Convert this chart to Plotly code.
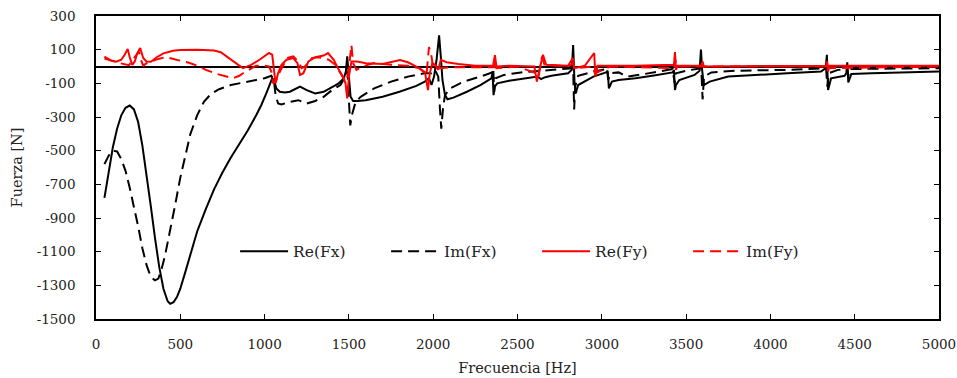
import plotly.graph_objects as go

# ---------------- data ----------------
re_fx_f = [50, 75, 100, 125, 150, 175, 200, 225, 250, 275, 300, 325, 350, 375, 400, 425, 440, 460, 480, 500,
           530, 560, 600, 650, 700, 750, 800, 850, 900, 950, 980, 1010, 1030, 1045, 1055, 1070, 1090, 1120, 1150,
           1180, 1210, 1250, 1300, 1350, 1400, 1440, 1470, 1482, 1490, 1498, 1510, 1525, 1550, 1600, 1700, 1800,
           1900, 1950, 1975, 1990, 2005, 2020, 2035, 2045, 2055, 2070, 2085, 2120, 2200, 2280, 2345, 2352, 2358,
           2365, 2380, 2450, 2550, 2620, 2640, 2660, 2700, 2800, 2822, 2830, 2838, 2845, 2860, 2950, 3025, 3035,
           3042, 3060, 3100, 3200, 3300, 3420, 3428, 3434, 3440, 3460, 3550, 3580, 3588, 3595, 3605, 3640, 3750,
           3900, 4100, 4300, 4328, 4335, 4342, 4360, 4440, 4450, 4456, 4462, 4480, 4600, 4800, 5000]
re_fx = [-780, -620, -480, -370, -290, -245, -232, -255, -330, -470, -640, -830, -1020, -1190, -1320, -1395,
         -1410, -1400, -1370, -1320, -1220, -1110, -980, -850, -730, -630, -540, -460, -380, -290, -230, -160,
         -110, -70, -80, -130, -150, -155, -150, -135, -120, -140, -160, -150, -120, -100, -70, -30, 60, -60,
         -180, -205, -205, -200, -180, -150, -115, -90, -70, -110, -60, 40, 185, 60, -80, -170, -195, -185, -150,
         -110, -70, -40, -170, -120, -100, -85, -70, -60, -75, -65, -55, -40, -20, 128, -90, -160, -110, -60,
         -35, -25, -130, -90, -80, -70, -55, -35, -20, -140, -110, -80, -50, -25, 100, -20, -110, -90, -60, -50,
         -40, -30, -10, 70, -140, -70, -55, -40, 25, -95, -45, -40, -35, -30]

im_fx_f = [50, 75, 100, 125, 150, 175, 200, 225, 250, 275, 300, 325, 350, 370, 390, 410, 440, 470, 500, 530,
           560, 600, 640, 680, 730, 800, 900, 1000, 1040, 1055, 1065, 1080, 1100, 1150, 1200, 1250, 1300, 1350,
           1400, 1450, 1480, 1492, 1500, 1508, 1520, 1540, 1570, 1650, 1750, 1850, 1950, 1990, 2010, 2030, 2040,
           2048, 2058, 2070, 2100, 2180, 2280, 2350, 2356, 2362, 2370, 2420, 2520, 2640, 2800, 2830, 2836, 2842,
           2860, 2950, 3030, 3038, 3050, 3100, 3150, 3250, 3420, 3432, 3440, 3500, 3590, 3598, 3606, 3650, 3800,
           4100, 4330, 4338, 4346, 4400, 4456, 4462, 4470, 4700, 5000]
im_fx = [-580, -530, -500, -505, -550, -620, -720, -830, -950, -1080, -1180, -1250, -1270, -1260, -1200, -1120,
         -980, -820, -660, -520, -400, -290, -210, -165, -135, -110, -90, -70, -55, -80, -170, -220, -225, -210,
         -200, -220, -205, -180, -140, -110, -60, -30, -200, -350, -280, -210, -180, -130, -90, -60, -40, -40,
         -20, -60, -250, -370, -250, -170, -130, -90, -60, -35, -10, -150, -70, -50, -35, -25, -15, -10, -255,
         -120, -55, -30, -15, -80, -40, -35, -60, -45, -15, -100, -40, -25, -10, -195, -60, -35, -25, -20, -10,
         -120, -40, -20, -15, -60, -15, -12, -10]

re_fy_f = [50, 70, 90, 120, 150, 170, 188, 200, 215, 230, 245, 262, 280, 300, 326, 360, 400, 457, 500, 600,
           700, 740, 780, 812, 850, 872, 920, 970, 1026, 1045, 1055, 1065, 1080, 1100, 1130, 1170, 1195, 1210,
           1230, 1260, 1300, 1350, 1376, 1410, 1440, 1465, 1480, 1490, 1500, 1515, 1550, 1600, 1700, 1760, 1803,
           1850, 1900, 1951, 1969, 1980, 1995, 2010, 2030, 2045, 2080, 2150, 2250, 2355, 2366, 2375, 2450, 2600,
           2615, 2630, 2651, 2670, 2800, 2828, 2836, 2900, 2955, 2962, 2975, 3200, 3428, 3434, 3440, 3450, 3590,
           3598, 3605, 4330, 4336, 4342, 4350, 5000]
re_fy = [58, 45, 35, 28, 40, 70, 104, 55, 10, 30, 80, 110, 50, 30, 28, 55, 78, 94, 98, 100, 95, 85, 55, 28, 5,
         -10, 10, 40, 80, 70, -20, -100, -40, 10, 40, 50, 20, -50, -40, 30, 55, 65, 80, 40, -20, -60, -100, -190,
         -60, 30, 30, 20, 15, 30, 39, 25, 0, -33, -140, -40, 20, 10, -20, 40, 25, 15, 5, 5, 68, 0, 5, 0, -90, -20,
         70, 10, 5, 50, -10, 5, 80, -60, 5, 5, 10, 86, -20, 5, 5, 30, 0, 5, 30, -30, 5, 5]

im_fy_f = [50, 80, 110, 140, 165, 196, 225, 255, 270, 280, 300, 326, 370, 415, 480, 551, 600, 652, 720, 812,
           850, 872, 949, 1000, 1026, 1040, 1050, 1070, 1091, 1133, 1170, 1200, 1220, 1240, 1280, 1320, 1380,
           1420, 1450, 1480, 1495, 1505, 1515, 1525, 1545, 1580, 1650, 1750, 1850, 1920, 1960, 1975, 1990, 2000,
           2030, 2100, 2200, 2360, 2367, 2375, 2500, 2610, 2625, 2645, 2660, 2800, 2830, 2838, 2950, 2960, 3050,
           3430, 3436, 3442, 4330, 4336, 4342, 5000]
im_fy = [47, 40, 30, 20, 15, 8, 50, 88, 30, 5, 20, 30, 45, 56, 40, 22, 5, -20, -45, -70, -55, -40, 5, 5, 0, -30,
         -100, -80, -30, 50, 60, 30, -10, 0, 50, 55, 40, 10, -40, -90, -50, 60, 128, 20, -20, 0, 20, 10, 5, -10,
         -50, 116, 60, -10, -10, -5, -5, -5, 40, -10, 0, -40, -60, 58, 10, 0, 20, -10, 0, -40, 0, -10, 40, 0, 0,
         20, -10, 0]

series_names = ["Re(Fx)", "Im(Fx)", "Re(Fy)", "Im(Fy)"]
x_ticks = [0, 500, 1000, 1500, 2000, 2500, 3000, 3500, 4000, 4500, 5000]
y_ticks = [-1500, -1300, -1100, -900, -700, -500, -300, -100, 100, 300]

# ---------------- figure ----------------
FONT = "DejaVu Serif"
fig = go.Figure()
styles = [("black", "solid"), ("black", "11px,6px"), ("#ff0000", "solid"), ("#ff0000", "11px,6px")]
data = [(re_fx_f, re_fx), (im_fx_f, im_fx), (re_fy_f, re_fy), (im_fy_f, im_fy)]
for (xs, ys), name, (col, dash) in zip(data, series_names, styles):
    fig.add_trace(go.Scatter(x=xs, y=ys, name=name, mode="lines",
                             line=dict(color=col, width=2, dash=dash)))

axis_common = dict(showline=True, linecolor="black", linewidth=1.5, mirror="ticks",
                   ticks="inside", ticklen=5, tickwidth=1, tickcolor="black", automargin=False,
                   showgrid=False, tickfont=dict(family=FONT, size=13.5, color="#222"))
fig.update_xaxes(range=[0, 5000], tickvals=x_ticks, ticktext=[str(v) for v in x_ticks],
                 zeroline=False, ticklabelstandoff=12,
                 title=dict(text="Frecuencia [Hz]", font=dict(family=FONT, size=14.5, color="#222"), standoff=12),
                 **axis_common)
fig.update_yaxes(range=[-1500, 300], tickvals=y_ticks, ticktext=[str(v) for v in y_ticks],
                 zeroline=True, zerolinecolor="black", zerolinewidth=1.5, ticklabelstandoff=16,
                 title=dict(text="Fuerza [N]", font=dict(family=FONT, size=14.5, color="#222"), standoff=11),
                 **axis_common)
fig.update_layout(
    width=957, height=378,
    margin=dict(l=96, r=18, t=16, b=59),
    paper_bgcolor="white", plot_bgcolor="white",
    showlegend=True,
    legend=dict(orientation="h", x=0.165, y=0.222, xanchor="left", yanchor="middle",
                bgcolor="rgba(255,255,255,0)", font=dict(family=FONT, size=15.5, color="#222"),
                entrywidth=88, itemwidth=48, tracegroupgap=0),
)
fig.write_html("out.html", config={"displayModeBar": False},
               post_script="document.body.style.margin='0';")
